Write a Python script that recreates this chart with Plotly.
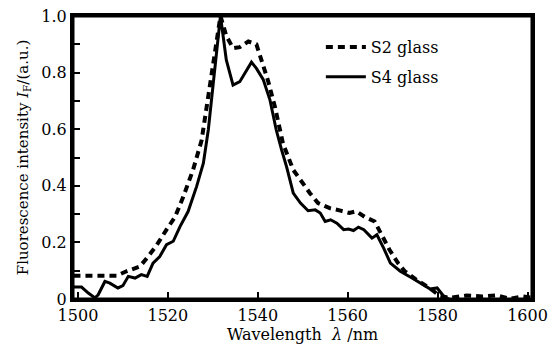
import plotly.graph_objects as go

# S2 glass (dashed)
s2_x = [1499.0, 1504.0, 1508.6, 1510.8, 1513.8, 1515.6, 1517.5, 1519.7, 1521.6, 1523.4,
        1525.6, 1527.5, 1528.6, 1530.1, 1531.7, 1533.0, 1534.5, 1536.0, 1537.9, 1539.7,
        1540.6, 1542.3, 1543.8, 1545.6, 1547.9, 1549.7, 1551.6, 1553.4, 1556.0, 1558.2,
        1560.4, 1561.9, 1563.8, 1566.0, 1567.5, 1569.3, 1571.2, 1572.7, 1575.3, 1578.2,
        1580.4, 1582.7, 1586.4, 1590.0, 1593.0, 1596.0, 1599.0, 1601.0]
s2_y = [0.082, 0.082, 0.082, 0.098, 0.115, 0.150, 0.190, 0.245, 0.290, 0.360,
        0.456, 0.560, 0.680, 0.820, 1.000, 0.930, 0.886, 0.890, 0.910, 0.900,
        0.858, 0.770, 0.680, 0.550, 0.456, 0.415, 0.374, 0.339, 0.321, 0.313,
        0.304, 0.310, 0.290, 0.274, 0.227, 0.174, 0.127, 0.098, 0.068, 0.039,
        0.012, 0.004, 0.012, 0.009, 0.013, 0.001, 0.009, 0.005]

# S4 glass (solid)
s4_x = [1499.0, 1500.8, 1502.3, 1503.8, 1504.5, 1506.0, 1507.1, 1508.9, 1510.0, 1511.2,
        1512.7, 1514.1, 1515.4, 1516.7, 1518.2, 1519.7, 1521.2, 1522.7, 1524.5, 1526.4,
        1527.9, 1529.0, 1530.1, 1531.7, 1533.0, 1534.5, 1536.0, 1537.5, 1538.6, 1539.7,
        1541.2, 1542.7, 1544.1, 1545.3, 1546.4, 1547.9, 1549.5, 1551.2, 1552.8, 1553.9,
        1555.0, 1556.2, 1557.6, 1559.1, 1560.2, 1561.3, 1562.4, 1563.6, 1565.4, 1566.5,
        1568.0, 1569.5, 1571.7, 1574.3, 1576.6, 1578.4, 1579.9, 1581.4, 1582.5]
s4_y = [0.042, 0.042, 0.021, 0.004, 0.015, 0.062, 0.056, 0.039, 0.047, 0.080,
        0.074, 0.086, 0.080, 0.127, 0.150, 0.192, 0.204, 0.256, 0.309, 0.398,
        0.480, 0.598, 0.762, 1.000, 0.845, 0.756, 0.768, 0.810, 0.837, 0.815,
        0.776, 0.704, 0.598, 0.527, 0.468, 0.374, 0.339, 0.312, 0.315, 0.304,
        0.274, 0.280, 0.268, 0.245, 0.247, 0.242, 0.254, 0.245, 0.215, 0.227,
        0.180, 0.127, 0.098, 0.074, 0.051, 0.035, 0.039, 0.009, 0.000]

x_ticks = [1500, 1520, 1540, 1560, 1580, 1600]
y_ticks = [0, 0.2, 0.4, 0.6, 0.8, 1.0]
y_tick_text = ["0", "0.2", "0.4", "0.6", "0.8", "1.0"]

font_family = "DejaVu Serif"

fig = go.Figure()
fig.add_trace(go.Scatter(x=s2_x, y=s2_y, mode="lines", name="S2 glass", legendgroup="s2",
                         line=dict(color="black", width=4, dash="7px,5px")))
fig.add_trace(go.Scatter(x=s4_x, y=s4_y, mode="lines", name="S4 glass", legendgroup="s4",
                         line=dict(color="black", width=3)))

# plot frame drawn around the axes domain
fig.add_shape(type="rect", xref="x domain", yref="y domain", x0=0, x1=1, y0=0, y1=1,
              line=dict(color="black", width=3), fillcolor="rgba(0,0,0,0)", layer="above")

fig.update_layout(
    width=554, height=349,
    margin=dict(l=73, r=22, t=16, b=50),
    paper_bgcolor="white", plot_bgcolor="white",
    font=dict(family=font_family, color="black", size=16),
    showlegend=True,
    legend=dict(x=0.54, y=0.95, xanchor="left", yanchor="top",
                bgcolor="rgba(0,0,0,0)", font=dict(family=font_family, size=16),
                tracegroupgap=6, itemwidth=40),
)
fig.update_xaxes(
    range=[1498.9, 1601.0], tickvals=x_ticks, automargin=False, ticklabeloverflow="allow",
    ticks="inside", ticklen=7, tickwidth=2, tickcolor="black",
    tickfont=dict(family=font_family, size=16),
    showline=True, linecolor="black", linewidth=3, mirror=True,
    showgrid=False, zeroline=False,
    title=dict(text="Wavelength  <i>λ</i> /nm", font=dict(family=font_family, size=16), standoff=0),
)
fig.update_yaxes(
    range=[0, 1.0], tickvals=y_ticks, ticktext=y_tick_text, automargin=False,
    ticklabeloverflow="allow",
    ticks="inside", ticklen=7, tickwidth=2, tickcolor="black",
    tickfont=dict(family=font_family, size=16),
    minor=dict(dtick=0.1, ticks="inside", ticklen=7, tickwidth=2, tickcolor="black"),
    showline=True, linecolor="black", linewidth=3, mirror=True,
    showgrid=False, zeroline=False,
    title=dict(text="Fluorescence intensity <i>I</i><sub>F</sub>/(a.u.)",
               font=dict(family=font_family, size=15), standoff=10),
)

# remove the default 8px page margin so the figure sits at the window's corner
fig.write_html("out.html", config={"displayModeBar": False},
               post_script="document.body.style.margin='0';")
